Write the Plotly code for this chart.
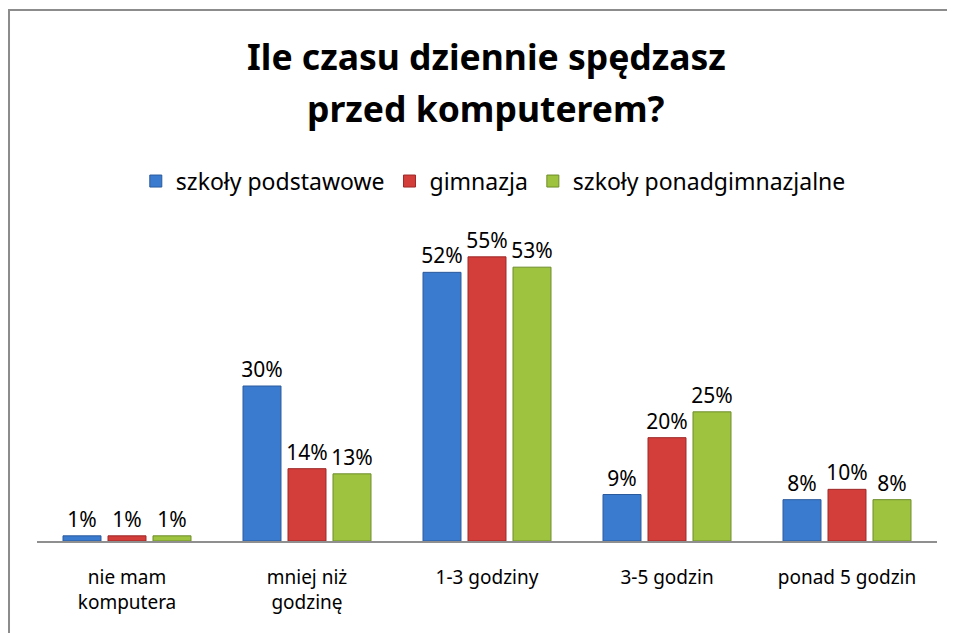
import plotly.graph_objects as go

categories = ["nie mam<br>komputera", "mniej niż<br>godzinę", "1-3 godziny", "3-5 godzin", "ponad 5 godzin"]
series_names = ["szkoły podstawowe", "gimnazja", "szkoły ponadgimnazjalne"]
podstawowe = [1, 30, 52, 9, 8]
gimnazja = [1, 14, 55, 20, 10]
ponadgimnazjalne = [1, 13, 53, 25, 8]

colors = ["#3B7BCF", "#D33D3A", "#9DC33F"]
edges = ["#2A5A9C", "#9C2A28", "#6E8D2A"]
FONT = "Noto Sans"

fig = go.Figure()
for name, vals, c, e in zip(series_names, [podstawowe, gimnazja, ponadgimnazjalne], colors, edges):
    fig.add_trace(go.Bar(
        name=name, x=categories, y=vals,
        marker=dict(color=c, line=dict(color=e, width=1)),
        text=[f"{v}%" for v in vals], textposition="outside",
        textfont=dict(family=FONT, size=21, color="#000000"),
        constraintext="none", cliponaxis=False,
    ))

fig.update_layout(
    width=955, height=633,
    margin=dict(l=29, r=26, t=223, b=100),
    paper_bgcolor="white", plot_bgcolor="white",
    barmode="group", bargap=0.25, bargroupgap=0.156,
    font=dict(family=FONT, color="#000000"),
    showlegend=True,
    legend=dict(orientation="h", x=0.507, xanchor="center", y=1.161, yanchor="middle",
                font=dict(family=FONT, size=23, color="#000000"), bgcolor="rgba(0,0,0,0)"),
    xaxis=dict(showline=True, linecolor="#8f8f8f", linewidth=2, ticks="",
               tickfont=dict(family=FONT, size=19, color="#000000"), ticklabelstandoff=18,
               showgrid=False),
    yaxis=dict(range=[0, 60], visible=False, showgrid=False),
    annotations=[
        dict(text="<b>Ile czasu dziennie spędzasz</b>", x=0.499, y=1.5645, xref="paper", yref="paper",
             xanchor="center", yanchor="middle", showarrow=False,
             font=dict(family=FONT, size=35.5, color="#000000")),
        dict(text="<b>przed komputerem?</b>", x=0.499, y=1.3968, xref="paper", yref="paper",
             xanchor="center", yanchor="middle", showarrow=False,
             font=dict(family=FONT, size=35.5, color="#000000")),
    ],
    shapes=[
        dict(type="rect", xref="paper", yref="paper", x0=-0.0311, x1=1.05, y0=-0.5, y1=1.7129,
             line=dict(color="#8c8c8c", width=2), fillcolor="rgba(0,0,0,0)", layer="below"),
    ],
)

fig.write_html("out.html")
